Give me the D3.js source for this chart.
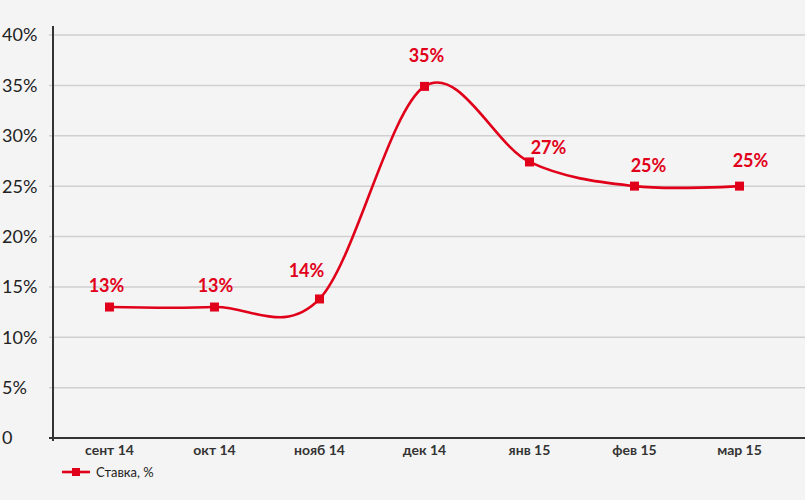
<!DOCTYPE html>
<html><head><meta charset="utf-8">
<script src="https://cdn.jsdelivr.net/npm/d3@7/dist/d3.min.js"></script>
<style>
html,body{margin:0;padding:0;background:#f4f4f4;}
svg{display:block;}
</style></head>
<body>
<svg id="c" width="805" height="500"></svg>
<script>
const categories = ["сент 14","окт 14","нояб 14","дек 14","янв 15","фев 15","мар 15"];
const values = [13, 13, 13.8, 34.9, 27.4, 25, 25];
const labels = ["13%","13%","14%","35%","27%","25%","25%"];
const yTicks = [0,5,10,15,20,25,30,35,40];
const yTickLabels = ["0","5%","10%","15%","20%","25%","30%","35%","40%"];
const seriesName = "Ставка, %";

const RED = "#e1001a";
const svg = d3.select("#c");
svg.append("rect").attr("width",805).attr("height",500).attr("fill","#f4f4f4");

const x = d3.scaleBand().domain(categories).range([57,792]);
const y = d3.scaleLinear().domain([0,40]).range([438,35]);
const cx = d => x(d) + x.bandwidth()/2;

// gridlines
svg.append("g").selectAll("line").data(yTicks.filter(t=>t>0)).join("line")
  .attr("x1",49).attr("x2",805)
  .attr("y1",d=>y(d)).attr("y2",d=>y(d))
  .attr("stroke","#cfcfcf").attr("stroke-width",1.5);

// y tick labels (left aligned)
svg.append("g").selectAll("text").data(yTicks).join("text")
  .attr("x",2).attr("y",d=>y(d)).attr("dy","0.36em")
  .attr("font-family","Lato, 'Open Sans', sans-serif").attr("font-size",18)
  .attr("fill","#222")
  .text((d,i)=>yTickLabels[i]);

// y axis line
svg.append("line").attr("x1",53).attr("x2",53).attr("y1",26).attr("y2",441)
  .attr("stroke","#333").attr("stroke-width",2);
// x axis line
svg.append("line").attr("x1",49).attr("x2",805).attr("y1",y(0)).attr("y2",y(0))
  .attr("stroke","#333").attr("stroke-width",2);

// x labels
svg.append("g").selectAll("text").data(categories).join("text")
  .attr("x",d=>cx(d)).attr("y",455)
  .attr("text-anchor","middle")
  .attr("font-family","Lato, 'Open Sans', sans-serif").attr("font-size",14).attr("font-weight","bold")
  .attr("fill","#333")
  .text(d=>d);

// line
const data = categories.map((c,i)=>({c, v:values[i], l:labels[i]}));
const line = d3.line().x(d=>cx(d.c)).y(d=>y(d.v)).curve(d3.curveCatmullRom.alpha(0));
svg.append("path").datum(data).attr("d",line)
  .attr("fill","none").attr("stroke",RED).attr("stroke-width",2.6);

// markers
svg.append("g").selectAll("rect").data(data).join("rect")
  .attr("x",d=>cx(d.c)-4.5).attr("y",d=>y(d.v)-4.5)
  .attr("width",9).attr("height",9).attr("fill",RED);

// data labels
const offs = [[-3,-15],[1,-15],[-13,-22],[2,-24],[19,-8],[14,-14],[11,-19]];
svg.append("g").selectAll("text").data(data).join("text")
  .attr("x",(d,i)=>cx(d.c)+offs[i][0]).attr("y",(d,i)=>y(d.v)+offs[i][1])
  .attr("text-anchor","middle")
  .attr("font-family","Lato, 'Open Sans', sans-serif").attr("font-size",18).attr("font-weight","bold")
  .attr("fill",RED)
  .text(d=>d.l);

// legend
const lg = svg.append("g");
lg.append("line").attr("x1",62).attr("x2",90).attr("y1",472).attr("y2",472)
  .attr("stroke",RED).attr("stroke-width",2.6);
lg.append("rect").attr("x",72).attr("y",468).attr("width",8).attr("height",8).attr("fill",RED);
lg.append("text").attr("x",96).attr("y",477)
  .attr("font-family","Lato, 'Open Sans', sans-serif").attr("font-size",13)
  .attr("fill","#222").text(seriesName);
</script>
</body></html>
